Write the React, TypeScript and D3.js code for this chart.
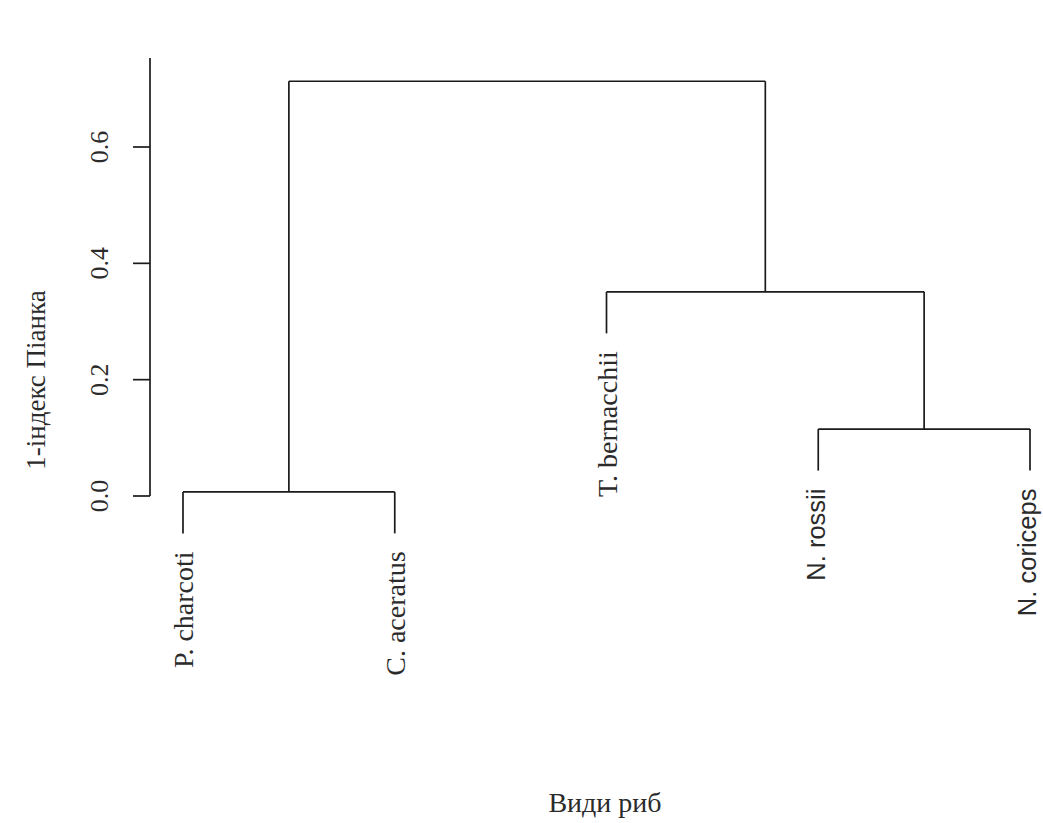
import React from "react";
import * as d3 from "d3";

// Leaves in plotting order
const leaves = ["P. charcoti", "C. aceratus", "T. bernacchii", "N. rossii", "N. coriceps"];
// Agglomeration steps (R hclust style: negative = leaf index, positive = earlier step)
const merges: [number, number][] = [
  [-1, -2],
  [-4, -5],
  [-3, 2],
  [1, 3],
];
const mergeHeights = [0.007, 0.115, 0.351, 0.713];
const yTicks = [0.0, 0.2, 0.4, 0.6];
const sansLeaves = ["N. rossii", "N. coriceps"];

const W = 1043;
const H = 823;

type Node = { name?: string; height: number; children?: Node[] };

function buildTree(): Node {
  const steps: Node[] = [];
  const toNode = (id: number): Node =>
    id < 0 ? { name: leaves[-id - 1], height: 0 } : steps[id - 1];
  merges.forEach(([a, b], i) => {
    steps.push({ height: mergeHeights[i], children: [toNode(a), toNode(b)] });
  });
  return steps[steps.length - 1];
}

export default function App() {
  const x = d3.scalePoint<string>().domain(leaves).range([183, 1030]);
  const y = d3.scaleLinear().domain([0, 0.6]).range([496, 147]);
  const axisTop = 0.753;

  const root = d3.hierarchy<Node>(buildTree());
  const hang = 0.1 * d3.max(mergeHeights)!;

  // horizontal position: leaves from the point scale, clusters at the midpoint of children
  const pos = new Map<d3.HierarchyNode<Node>, number>();
  root.eachAfter((n) => {
    if (!n.children) pos.set(n, x(n.data.name!)!);
    else pos.set(n, d3.mean(n.children, (c) => pos.get(c)!)!);
  });

  const segs: string[] = [];
  const labels: { name: string; x: number; y: number }[] = [];
  root.each((n) => {
    if (!n.children) return;
    const hy = y(n.data.height);
    const xs = n.children.map((c) => pos.get(c)!);
    segs.push(`M${xs[0]},${hy}H${xs[1]}`);
    n.children.forEach((c) => {
      const cx = pos.get(c)!;
      const bottom = c.children ? y(c.data.height) : y(n.data.height - hang);
      segs.push(`M${cx},${hy}V${bottom}`);
      if (!c.children) labels.push({ name: c.data.name!, x: cx, y: bottom });
    });
  });

  const ink = "#1a1a1a";
  const serif = "'Liberation Serif', 'Times New Roman', serif";
  const sans = "'Liberation Sans', Arial, sans-serif";

  return (
    <svg
      width={W}
      height={H}
      style={{ position: "absolute", left: 0, top: 0, background: "#fff" }}
    >
      <g fill="none" stroke={ink} strokeWidth={1.7}>
        {segs.map((d, i) => (
          <path key={i} d={d} />
        ))}
        {/* y axis */}
        <path d={`M150,${y(0)}V${y(axisTop)}`} />
        {yTicks.map((t) => (
          <path key={t} d={`M133,${y(t)}H150`} />
        ))}
      </g>

      {yTicks.map((t) => (
        <text
          key={t}
          transform={`translate(108,${y(t)}) rotate(-90)`}
          textAnchor="middle"
          fontFamily={serif}
          fontSize={26}
          fill="#2b2b2b"
        >
          {d3.format(".1f")(t)}
        </text>
      ))}

      {labels.map((l) => {
        const isSans = sansLeaves.includes(l.name);
        return (
          <text
            key={l.name}
            transform={`translate(${l.x},${l.y + 18}) rotate(-90)`}
            textAnchor="end"
            dy={isSans ? "0.25em" : "0.36em"}
            fontFamily={isSans ? sans : serif}
            fontSize={isSans ? 25.5 : 28}
            fill="#2b2b2b"
          >
            {l.name}
          </text>
        );
      })}

      <text
        transform="translate(45,380) rotate(-90)"
        textAnchor="middle"
        fontFamily={serif}
        fontSize={27}
        fill="#2b2b2b"
      >
        1-індекс Піанка
      </text>
      <text
        x={605}
        y={812}
        textAnchor="middle"
        fontFamily={serif}
        fontSize={28}
        fill="#2b2b2b"
      >
        Види риб
      </text>
    </svg>
  );
}
